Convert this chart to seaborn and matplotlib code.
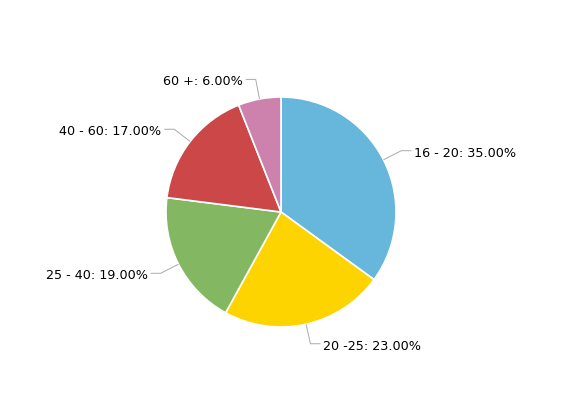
import numpy as np
import matplotlib
matplotlib.use("Agg")
import matplotlib.pyplot as plt
import seaborn as sns

categories = ["16 - 20", "20 -25", "25 - 40", "40 - 60", "60 +"]
values = [35, 23, 19, 17, 6]
colors = ["#67B7DC", "#FDD400", "#84B761", "#CC4748", "#CD82AD"]

sns.set_theme(style="white")
plt.rcParams['font.family'] = ['DejaVu Sans']

W, H = 562, 395
fig = plt.figure(figsize=(W / 100, H / 100), dpi=100)
ax = fig.add_axes([0, 0, 1, 1])

cx, cy, R = 281, H - 212, 115
palette = sns.color_palette(colors)
wedges, _ = ax.pie(values, colors=palette, startangle=90, counterclock=False,
                   center=(cx, cy), radius=R, frame=True,
                   wedgeprops=dict(edgecolor='white', linewidth=1.2))
ax.set_xlim(0, W)
ax.set_ylim(0, H)
ax.set_aspect('equal')
ax.axis('off')

total = sum(values)
for w, cat, v in zip(wedges, categories, values):
    ang = np.deg2rad((w.theta1 + w.theta2) / 2)
    x0, y0 = cx + R * np.cos(ang), cy + R * np.sin(ang)
    x1, y1 = cx + 135 * np.cos(ang), cy + 135 * np.sin(ang)
    side = 1 if np.cos(ang) >= 0 else -1
    x2 = x1 + side * 10
    ax.plot([x0, x1, x2], [y0, y1, y1], color='#aaaaaa', lw=0.7, solid_capstyle='butt')
    ax.text(x2 + side * 3, y1 - 2.5, f"{cat}: {v / total * 100:.2f}%",
            ha='left' if side > 0 else 'right', va='center', fontsize=9.2, color='black')

fig.savefig("out.png", dpi=100, facecolor='white')
